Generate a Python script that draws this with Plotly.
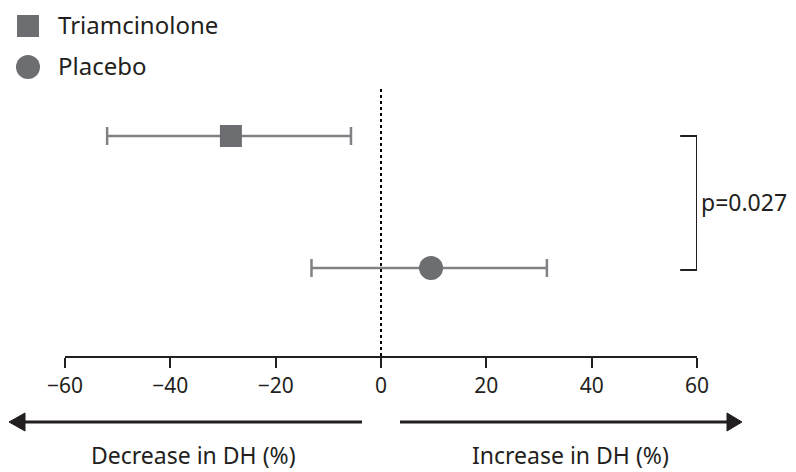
import plotly.graph_objects as go

# ---- data ----
groups = ["Triamcinolone", "Placebo"]
group_pos = [2, 1]
means = [-28.5, 9.5]
ci_low = [-52.0, -13.2]
ci_high = [-5.7, 31.5]
symbols = ["square", "circle"]
tick_vals = [-60, -40, -20, 0, 20, 40, 60]
tick_text = ["\u221260", "\u221240", "\u221220", "0", "20", "40", "60"]
p_text = "p=0.027"
left_label = "Decrease in DH (%)"
right_label = "Increase in DH (%)"

# page has an 8px body margin; figure sized to fit the 796x472 window
OFF = 8
W, H = 796 - OFF, 472 - OFF
ML, MR, MT, MB = 65 - OFF, 99, 0, 116
PW, PH = W - ML - MR, H - MT - MB
FONT = "Noto Sans, Open Sans, sans-serif"
TXT = "#231f20"
MARK = "#6d6e71"
BAR = "#808285"

def fx(p):  # reference pixel x -> paper
    return (p - OFF - ML) / PW
def fy(p):  # reference pixel y -> paper
    return (H - MB - (p - OFF)) / PH

fig = go.Figure()
for g, y, m, lo, hi, s, sz in zip(groups, group_pos, means, ci_low, ci_high, symbols, [22, 24]):
    fig.add_trace(go.Scatter(
        x=[m], y=[y], mode="markers", name=g, showlegend=False,
        marker=dict(symbol=s, size=sz, color=MARK, line=dict(width=0)),
        error_x=dict(type="data", symmetric=False, array=[hi - m], arrayminus=[m - lo],
                     color=BAR, thickness=2.5, width=9),
    ))

shapes = []
# dotted zero line
shapes.append(dict(type="line", xref="x", yref="paper", x0=0, x1=0, y0=0, y1=fy(88),
                   line=dict(color="black", width=2, dash="dot")))
# bracket
shapes.append(dict(type="path", xref="x", yref="y",
                   path="M 56.8 2 L 60 2 L 60 0.985 L 56.8 0.985",
                   line=dict(color=TXT, width=2)))
# legend symbols
shapes.append(dict(type="rect", xref="paper", yref="paper",
                   x0=fx(17), x1=fx(39), y0=fy(37), y1=fy(15),
                   fillcolor=MARK, line=dict(width=0)))
shapes.append(dict(type="circle", xref="paper", yref="paper",
                   x0=fx(16), x1=fx(40), y0=fy(79), y1=fy(55),
                   fillcolor=MARK, line=dict(width=0)))
# direction arrows below the axis
AY = 422
shapes.append(dict(type="line", xref="paper", yref="paper", x0=fx(22), x1=fx(362),
                   y0=fy(AY), y1=fy(AY), line=dict(color=TXT, width=3)))
shapes.append(dict(type="line", xref="paper", yref="paper", x0=fx(400), x1=fx(730),
                   y0=fy(AY), y1=fy(AY), line=dict(color=TXT, width=3)))
shapes.append(dict(type="path", xref="paper", yref="paper",
                   path=f"M {fx(9)} {fy(AY)} L {fx(25)} {fy(AY-9)} L {fx(25)} {fy(AY+9)} Z",
                   fillcolor=TXT, line=dict(color=TXT, width=1)))
shapes.append(dict(type="path", xref="paper", yref="paper",
                   path=f"M {fx(742)} {fy(AY)} L {fx(727)} {fy(AY-9)} L {fx(727)} {fy(AY+9)} Z",
                   fillcolor=TXT, line=dict(color=TXT, width=1)))

def txt(size):
    return dict(size=size, color=TXT, family=FONT)

annotations = [
    dict(text=groups[0], xref="paper", yref="paper", x=fx(56), y=fy(25),
         xanchor="left", yanchor="middle", showarrow=False, font=txt(24)),
    dict(text=groups[1], xref="paper", yref="paper", x=fx(56), y=fy(66),
         xanchor="left", yanchor="middle", showarrow=False, font=txt(24)),
    dict(text=p_text, xref="x", yref="y", x=60, y=1.5, xanchor="left", yanchor="middle",
         xshift=2, showarrow=False, font=txt(23)),
    dict(text=left_label, xref="paper", yref="paper", x=fx(193), y=fy(455), xanchor="center",
         yanchor="middle", showarrow=False, font=txt(23)),
    dict(text=right_label, xref="paper", yref="paper", x=fx(570), y=fy(455), xanchor="center",
         yanchor="middle", showarrow=False, font=txt(23)),
]

fig.update_layout(
    width=W, height=H, margin=dict(l=ML, r=MR, t=MT, b=MB),
    paper_bgcolor="white", plot_bgcolor="white",
    shapes=shapes, annotations=annotations, showlegend=False,
    font=dict(family=FONT, color=TXT, size=21),
)
fig.update_xaxes(range=[-60, 60], tickvals=tick_vals, ticktext=tick_text,
                 showline=True, linecolor=TXT, linewidth=2, ticks="outside",
                 ticklen=10, tickwidth=2, tickcolor=TXT, showgrid=False, zeroline=False,
                 tickfont=txt(21), fixedrange=True)
fig.update_yaxes(range=[0.3333, 2.970], visible=False, showgrid=False, zeroline=False, fixedrange=True)

fig.write_html("out.html")
